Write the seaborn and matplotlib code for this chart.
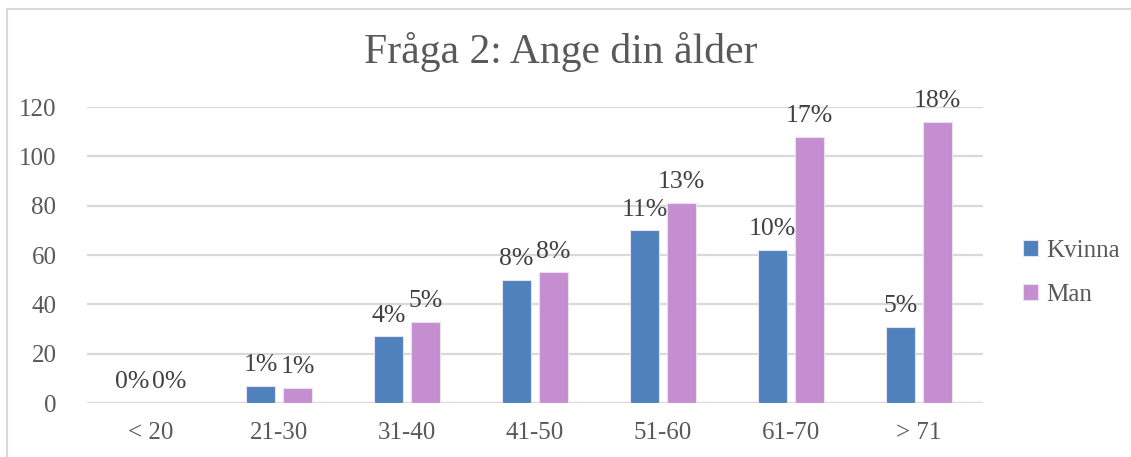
import pandas as pd
import numpy as np
import matplotlib.pyplot as plt
import seaborn as sns
from matplotlib.patches import Rectangle

# data
groups = ["< 20", "21-30", "31-40", "41-50", "51-60", "61-70", "> 71"]
kvinna = [0, 7, 27, 50, 70, 62, 31]
man = [0, 6, 33, 53, 81, 108, 114]
kvinna_pct = ["0%", "1%", "4%", "8%", "11%", "10%", "5%"]
man_pct = ["0%", "1%", "5%", "8%", "13%", "17%", "18%"]
series = ["Kvinna", "Man"]
colors = ["#4F81BD", "#C58ED0"]

df = pd.DataFrame({
    "Ålder": groups * 2,
    "Antal": kvinna + man,
    "Kön": ["Kvinna"] * len(groups) + ["Man"] * len(groups),
})

sns.set_style("white")
plt.rcParams["font.family"] = ["Liberation Serif", "DejaVu Serif"]

fig = plt.figure(figsize=(11.31, 4.57), dpi=100)
# chart frame
fig.patches.append(Rectangle((7 / 1131, -0.05), 1.2, (457 - 9) / 457 + 0.05,
                             transform=fig.transFigure, fill=False,
                             edgecolor="#D9D9D9", linewidth=1.5))

ax = fig.add_axes([87 / 1131, 54 / 457, 896 / 1131, 296 / 457])
sns.barplot(data=df, x="Ålder", y="Antal", hue="Kön", order=groups,
            hue_order=series, palette=colors, saturation=1, width=0.58,
            gap=0.22, edgecolor="#E8E0F0", linewidth=0.8, ax=ax, zorder=3)

for cont, labs in zip(ax.containers, [kvinna_pct, man_pct]):
    ax.bar_label(cont, labels=labs, padding=7, fontsize=18.5, color="#404040")

ax.set_ylim(0, 120)
ax.set_xlim(-0.5, len(groups) - 0.5)
ax.set_yticks(np.arange(0, 121, 20))
ax.grid(axis="y", color="#D9D9D9", linewidth=1.6, zorder=0)
ax.set_axisbelow(True)
for s in ax.spines.values():
    s.set_visible(False)
ax.tick_params(axis="both", length=0, labelsize=18, labelcolor="#595959")
ax.tick_params(axis="x", pad=14)
ax.tick_params(axis="y", pad=22)
ax.set_xlabel("")
ax.set_ylabel("")

fig.text(561 / 1131, 1 - 52 / 457, "Fråga 2: Ange din ålder", fontsize=30,
         color="#595959", ha="center", va="center")

leg = ax.legend(loc="center left", bbox_to_anchor=(1.02, 0.44), frameon=False,
                fontsize=18, labelcolor="#595959", handlelength=0.6,
                handleheight=0.6, handletextpad=0.3, labelspacing=0.9)

fig.savefig("out.png", dpi=100)
